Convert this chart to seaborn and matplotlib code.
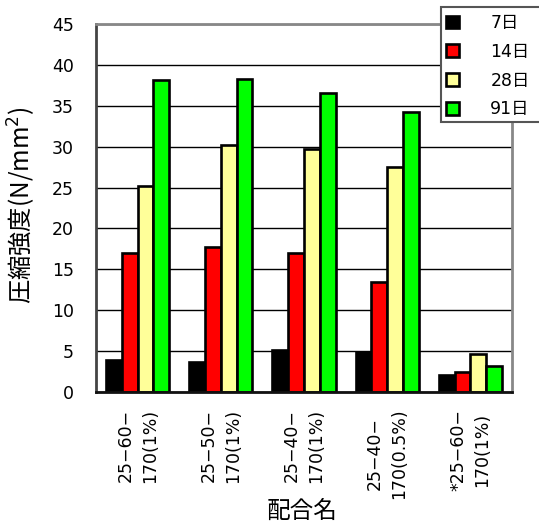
import numpy as np
import pandas as pd
import seaborn as sns
import matplotlib.pyplot as plt
from matplotlib.patches import Rectangle, Patch
from matplotlib.ticker import FixedLocator, MultipleLocator

# Compressive strength by mix design and curing age
mixes = ["25−60−\n170(1%)", "25−50−\n170(1%)", "25−40−\n170(1%)",
         "25−40−\n170(0.5%)", "*25−60−\n170(1%)"]
ages = ["7日", "14日", "28日", "91日"]
day7 = [3.9, 3.7, 5.1, 4.9, 2.1]
day14 = [17.0, 17.7, 17.0, 13.4, 2.5]
day28 = [25.2, 30.2, 29.7, 27.5, 4.6]
day91 = [38.1, 38.3, 36.6, 34.2, 3.2]
colors = ["#000000", "#ff0000", "#ffff99", "#00ff00"]

rows = []
for age, vals in zip(ages, [day7, day14, day28, day91]):
    for mix, v in zip(mixes, vals):
        rows.append({"配合名": mix, "強度": v, "材齢": age})
df = pd.DataFrame(rows)

sns.set_style("white")
plt.rcParams["font.family"] = ["DejaVu Sans", "Noto Sans CJK JP"]
plt.rcParams["text.color"] = "black"
plt.rcParams["xtick.color"] = "black"
plt.rcParams["ytick.color"] = "black"
plt.rcParams["xtick.labelcolor"] = "black"
plt.rcParams["ytick.labelcolor"] = "black"

W, H = 539, 526
fig = plt.figure(figsize=(W / 100, H / 100), dpi=100)
ax = fig.add_axes([96 / W, 1 - 392 / H, (512 - 96) / W, (392 - 24) / H])

sns.barplot(data=df, x="配合名", y="強度", hue="材齢", order=mixes,
            hue_order=ages, palette=colors, saturation=1, width=0.76,
            edgecolor="black", linewidth=1.9, legend=False, ax=ax)

ax.set_ylim(0, 45)
ax.set_xlim(-0.5, len(mixes) - 0.5)
ax.yaxis.set_major_locator(MultipleLocator(5))
ax.yaxis.grid(True, color="black", linewidth=1)
ax.set_axisbelow(True)
ax.tick_params(axis="y", length=0, pad=16, labelsize=12.5, labelcolor="black")

# category labels at centres, short inward ticks at group boundaries
ax.set_xticks(range(len(mixes)))
ax.set_xticklabels(mixes, rotation=90, ha="center", va="top",
                   multialignment="center", linespacing=1.45, fontsize=12.5,
                   color="black")
ax.tick_params(axis="x", which="major", length=0, pad=12)
ax.xaxis.set_minor_locator(FixedLocator(np.arange(0.5, len(mixes) - 0.5, 1)))
ax.tick_params(axis="x", which="minor", direction="in", length=6,
               width=1.5, color="#333333")

for side, col in [("left", "#444444"), ("top", "#888888"),
                  ("right", "#888888"), ("bottom", "#111111")]:
    ax.spines[side].set_visible(True)
    ax.spines[side].set_color(col)
    ax.spines[side].set_linewidth(2)

ax.set_xlabel("")
ax.set_ylabel("")
fig.text(22 / W, 1 - 205 / H, "圧縮強度(N/mm$^2$)", rotation=90,
         ha="center", va="center", fontsize=17.5, color="black",
         fontfamily="Noto Sans CJK JP")
fig.text(302 / W, 1 - 511 / H, "配合名", ha="center", va="center",
         fontsize=17, color="black", fontfamily="Noto Sans CJK JP")

# legend box, running off the right edge
fig.add_artist(Rectangle((441 / W, 1 - 122 / H), 120 / W, 115 / H,
                         transform=fig.transFigure, facecolor="white",
                         edgecolor="#555555", linewidth=1.5, zorder=4))
handles = [Patch(facecolor=c, edgecolor="black", linewidth=1.9) for c in colors]
leg = fig.legend(handles, ages, loc="upper left",
                 bbox_to_anchor=(446 / W, 1 - 14 / H), frameon=False,
                 fontsize=12.5, handlelength=0.75, handleheight=0.75,
                 handletextpad=1.8, labelspacing=0.62, borderpad=0,
                 borderaxespad=0, labelcolor="black")
leg.set_zorder(5)

fig.savefig("out.png", dpi=100)
